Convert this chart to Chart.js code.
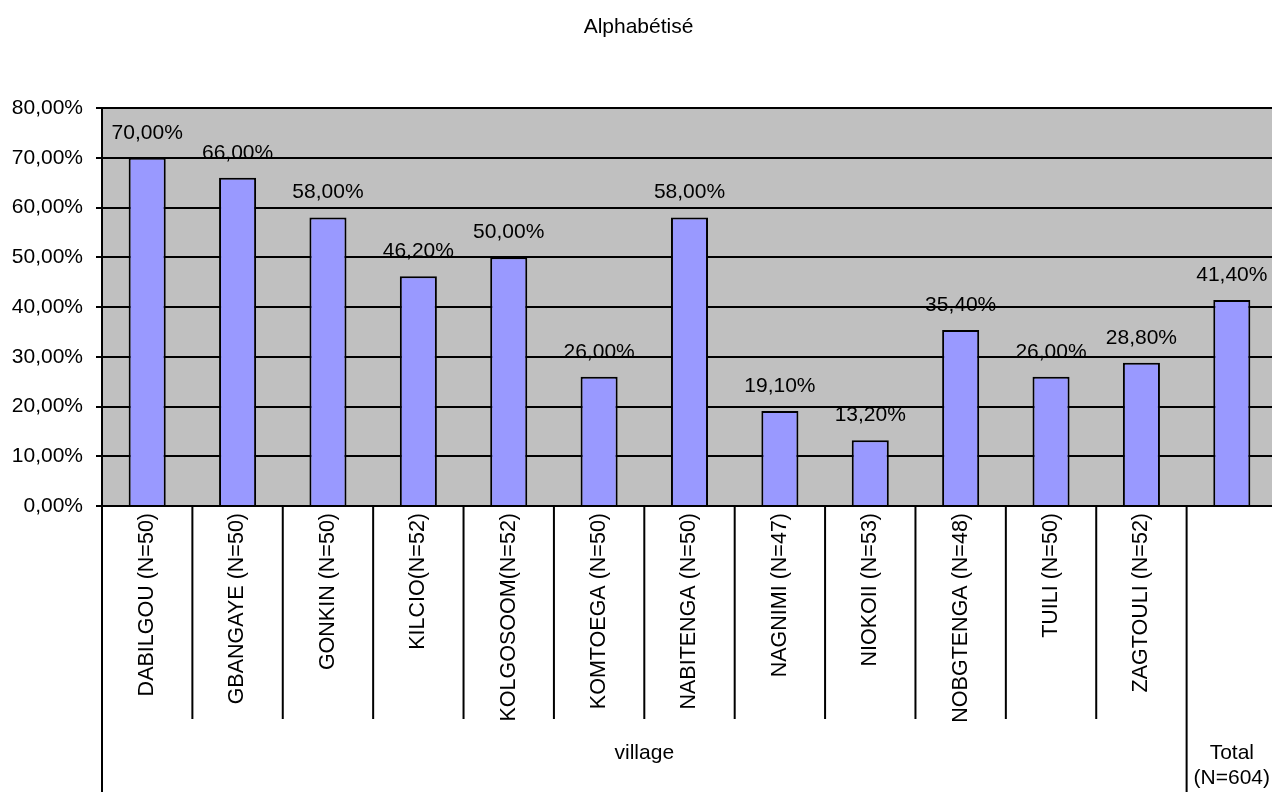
<!DOCTYPE html>
<html>
<head>
<meta charset="utf-8">
<title>Alphabétisé</title>
<script src="https://cdn.jsdelivr.net/npm/chart.js@4/dist/chart.umd.min.js"></script>
<style>
  html, body { margin: 0; padding: 0; overflow: hidden; background: #ffffff; }
  #wrap { position: absolute; left: 0; top: 0; width: 1277px; height: 792px; }
</style>
</head>
<body>
<div id="wrap"><canvas id="chart"></canvas></div>
<script>
// Village categories (first level of the x axis)
const villages = [
  'DABILGOU (N=50)', 'GBANGAYE (N=50)', 'GONKIN (N=50)', 'KILCIO(N=52)',
  'KOLGOSOOM(N=52)', 'KOMTOEGA (N=50)', 'NABITENGA (N=50)', 'NAGNIMI (N=47)',
  'NIOKOII (N=53)', 'NOBGTENGA (N=48)', 'TUILI (N=50)', 'ZAGTOULI (N=52)'
];
// Group labels (second level of the x axis)
const groupLabel = 'village';
const totalLabel = ['Total', '(N=604)'];
const categories = [...villages, 'Total (N=604)'];

// Share of literate respondents, in percent
const values = [70.0, 66.0, 58.0, 46.2, 50.0, 26.0, 58.0, 19.1, 13.2, 35.4, 26.0, 28.8, 41.4];

// Y axis tick values, in percent
const yTicks = [0, 10, 20, 30, 40, 50, 60, 70, 80];

const FONT = 'Arial, "Liberation Sans", Helvetica, sans-serif';
const fmtPct = v => v.toFixed(2).replace('.', ',') + '%';

// Gray plot background
const plotBackground = {
  id: 'plotBackground',
  beforeDraw(chart) {
    const { ctx, chartArea: a } = chart;
    ctx.save();
    ctx.fillStyle = '#C0C0C0';
    ctx.fillRect(a.left, a.top, a.right - a.left, a.bottom - a.top);
    ctx.restore();
  }
};

// Value labels above each bar
const valueLabels = {
  id: 'valueLabels',
  afterDatasetsDraw(chart) {
    const { ctx } = chart;
    const meta = chart.getDatasetMeta(0);
    ctx.save();
    ctx.fillStyle = '#000';
    ctx.font = '21px ' + FONT;
    ctx.textAlign = 'center';
    ctx.textBaseline = 'alphabetic';
    meta.data.forEach((bar, i) => {
      ctx.fillText(fmtPct(values[i]), bar.x, bar.y - 19);
    });
    ctx.restore();
  }
};

// Two-level category axis: separators and group labels under the ticks
const groupAxis = {
  id: 'groupAxis',
  afterDraw(chart) {
    const { ctx, chartArea: a, scales: { x } } = chart;
    const n = categories.length;
    const step = (a.right - a.left) / n;
    const edge = i => a.left + i * step;
    const innerBottom = a.bottom + 213;
    const outerBottom = chart.height;
    ctx.save();
    ctx.strokeStyle = '#000';
    ctx.lineWidth = 2;
    ctx.beginPath();
    for (let i = 1; i < villages.length; i++) {
      ctx.moveTo(edge(i), a.bottom);
      ctx.lineTo(edge(i), innerBottom);
    }
    [0, villages.length].forEach(i => {
      ctx.moveTo(edge(i), a.bottom);
      ctx.lineTo(edge(i), outerBottom);
    });
    ctx.stroke();

    ctx.fillStyle = '#000';
    ctx.font = '21px ' + FONT;
    ctx.textAlign = 'center';
    ctx.textBaseline = 'middle';
    ctx.fillText(groupLabel, (edge(0) + edge(villages.length)) / 2, 753);
    const tx = x.getPixelForValue(villages.length);
    ctx.fillText(totalLabel[0], tx, 753);
    ctx.fillText(totalLabel[1], tx, 778);
    ctx.restore();
  }
};

new Chart(document.getElementById('chart'), {
  type: 'bar',
  data: {
    labels: categories,
    datasets: [{
      data: values,
      backgroundColor: '#9999FF',
      borderColor: '#000000',
      borderWidth: 2,
      barPercentage: 0.41,
      categoryPercentage: 1
    }]
  },
  options: {
    responsive: true,
    maintainAspectRatio: false,
    animation: false,
    layout: { padding: 0 },
    plugins: {
      legend: { display: false },
      tooltip: { enabled: false },
      title: {
        display: true,
        text: 'Alphabétisé',
        color: '#000',
        font: { family: FONT, size: 21, weight: 'normal' },
        padding: { top: 14.4, bottom: 68.4 }
      }
    },
    scales: {
      x: {
        grid: { display: false, drawTicks: false },
        border: { display: true, color: '#000', width: 2 },
        ticks: {
          autoSkip: false,
          minRotation: 90,
          maxRotation: 90,
          padding: 7,
          color: '#000',
          font: { family: FONT, size: 21.5 },
          callback: (v, i) => (i < villages.length ? villages[i] : '')
        },
        afterFit: s => { s.height = 286; }
      },
      y: {
        min: 0,
        max: 80,
        afterBuildTicks: s => { s.ticks = yTicks.map(v => ({ value: v })); },
        ticks: {
          padding: 13,
          color: '#000',
          font: { family: FONT, size: 21 },
          callback: v => fmtPct(v)
        },
        grid: { color: '#000', lineWidth: 2, drawTicks: true, tickLength: 6, tickColor: '#000' },
        border: { display: true, color: '#000', width: 2 },
        afterFit: s => { s.width = 102; }
      }
    }
  },
  plugins: [plotBackground, valueLabels, groupAxis]
});
</script>
</body>
</html>
